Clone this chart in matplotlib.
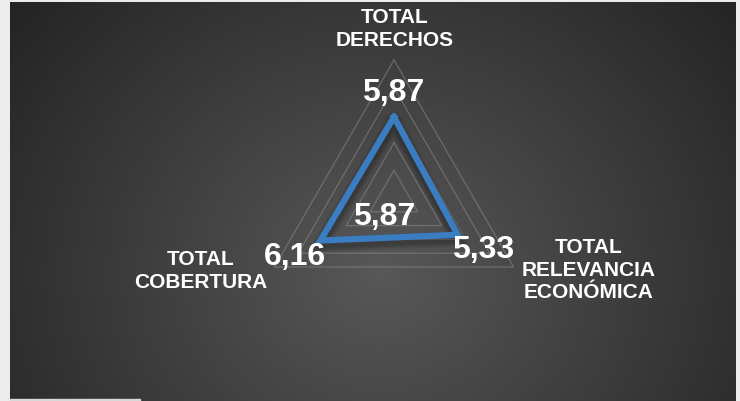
import numpy as np
import matplotlib
matplotlib.use("Agg")
import matplotlib.pyplot as plt
import matplotlib.patheffects as pe

# ---- data ----
categories = ["TOTAL\nDERECHOS", "TOTAL\nRELEVANCIA\nECONÓMICA", "TOTAL\nCOBERTURA"]
values = [5.87, 5.33, 6.16]
value_labels = ["5,87", "5,33", "6,16"]
center_label = "5,87"
grid_levels = [2, 4, 6, 8, 10]
r_max = 10

W, H = 740, 401
DPI = 100
fig = plt.figure(figsize=(W / DPI, H / DPI), dpi=DPI)
fig.patch.set_facecolor("#ececec")

# background panel with radial gradient
bg = fig.add_axes([10 / W, 0, (736 - 10) / W, (H - 2) / H])
bg.set_axis_off()
yy, xx = np.mgrid[0:399, 0:726]
cx, cy = 370, 270  # from top-left of panel
d = np.sqrt(((xx - cx) / 1.0) ** 2 + ((yy - cy) / 0.9) ** 2)
t = np.clip(d / 470, 0, 1)
inner = np.array([0x58, 0x58, 0x58]) / 255
outer = np.array([0x24, 0x24, 0x24]) / 255
img = inner[None, None, :] * (1 - t[..., None]) + outer[None, None, :] * t[..., None]
bg.imshow(img, aspect="auto", extent=[0, 1, 0, 1], origin="upper")
bg.set_xlim(0, 1)
bg.set_ylim(0, 1)

# small light strip bottom-left
fig.add_artist(plt.Rectangle((10 / W, 0), 130 / W, 2 / H, transform=fig.transFigure,
                             color="#d8d8d8", zorder=5))

# chart axes: center at pixel (394, 198 from top), radius 10 -> 138 px
scale = 138 / r_max
cxp, cyp = 394, H - 198
ax = fig.add_axes([0, 0, 1, 1])
ax.set_axis_off()
ax.patch.set_alpha(0)
ax.set_xlim(-cxp / scale, (W - cxp) / scale)
ax.set_ylim(-cyp / scale, (H - cyp) / scale)

n = len(categories)
angles = np.deg2rad(90 - 120 * np.arange(n))


def pt(r, a):
    return r * np.cos(a), r * np.sin(a)


def px(x, y_top):
    return (x - cxp) / scale, (H - y_top - cyp) / scale


# grid triangles
for lv in grid_levels:
    xs, ys = pt(lv, np.append(angles, angles[0]))
    ax.plot(xs, ys, color="#8a8a8a", lw=0.9, alpha=0.55, zorder=2)

# data polygon with soft shadow
vals = np.array(values)
xs, ys = pt(np.append(vals, vals[0]), np.append(angles, angles[0]))
shadows = [pe.Stroke(linewidth=w, foreground="black", alpha=0.07, offset=(0, -3))
           for w in (11, 9, 7, 5)]
ax.plot(xs, ys, color="#3A7DC0", lw=4.5, solid_joinstyle="miter", zorder=4,
        path_effects=shadows + [pe.Normal()])

font = "Liberation Sans"
# value labels
val_pos = [(393, 93), (483, 250), (295, 257)]
for lab, (x, y) in zip(value_labels, val_pos):
    ax.text(*px(x, y), lab, color="white", fontsize=23, fontweight="bold",
            family=font, ha="center", va="center", zorder=6)
ax.text(*px(384, 217), center_label, color="white", fontsize=23, fontweight="bold",
        family=font, ha="center", va="center", zorder=6)

# category labels
cat_pos = [(395, 29), (589, 270), (201, 271)]
for lab, (x, y) in zip(categories, cat_pos):
    ax.text(*px(x, y), lab, color="white", fontsize=15, fontweight="bold",
            family=font, ha="center", va="center", linespacing=1.22, zorder=6)

fig.savefig("out.png", dpi=DPI, facecolor=fig.get_facecolor())
